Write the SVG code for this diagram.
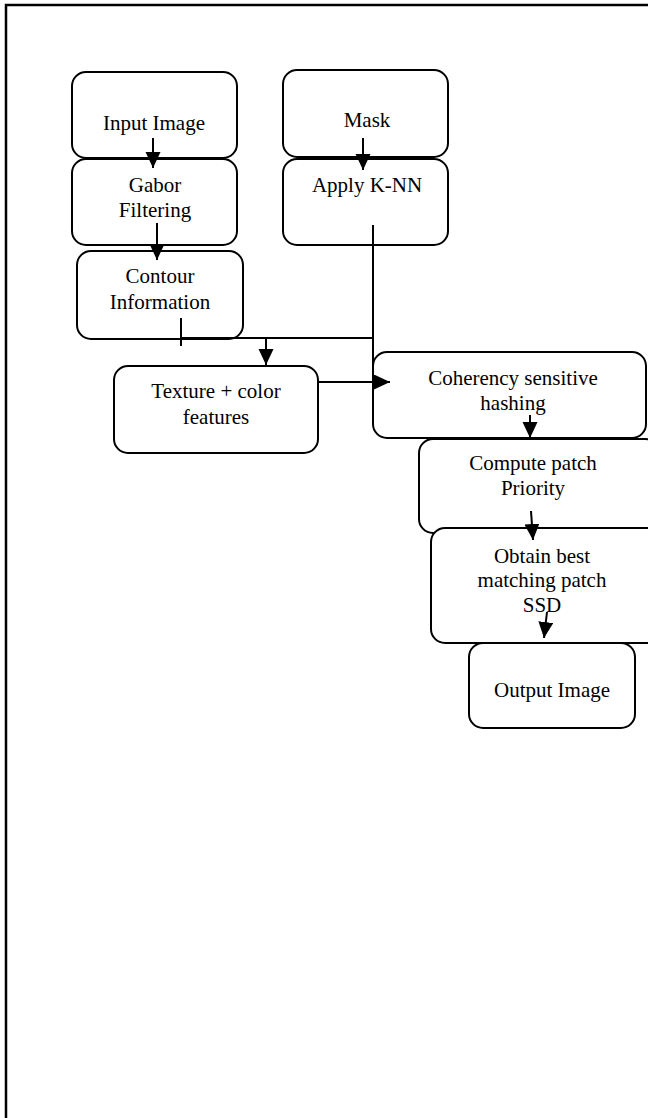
<svg xmlns="http://www.w3.org/2000/svg" width="648" height="1118" viewBox="0 0 648 1118">
<style>
.box{fill:#fff;stroke:#000;stroke-width:2}
.t{font-family:"Liberation Serif","Times New Roman",serif;font-size:21px;text-anchor:middle;fill:#000}
.c{fill:none;stroke:#000;stroke-width:2}
</style>
<defs>
<marker id="ah" markerUnits="userSpaceOnUse" markerWidth="18" markerHeight="18" refX="16" refY="7.5" orient="auto">
<path d="M0,0 L16,7.5 L0,15 z" fill="#000"/>
</marker>
</defs>
<path d="M6,1118 L6,5 L648,5" fill="none" stroke="#000" stroke-width="2.5"/>
<g id="n-input"><rect class="box" x="72" y="72" width="165" height="86" rx="14"/><text class="t" x="154" y="130">Input Image</text></g>
<g id="n-gabor"><rect class="box" x="72" y="159" width="165" height="86" rx="14"/><text class="t" x="155" y="192">Gabor</text><text class="t" x="155" y="217">Filtering</text></g>
<g id="n-contour"><rect class="box" x="77" y="251" width="166" height="88" rx="14"/><text class="t" x="160" y="283">Contour</text><text class="t" x="160" y="309">Information</text></g>
<g id="n-mask"><rect class="box" x="283" y="70" width="165" height="87" rx="14"/><text class="t" x="367" y="127">Mask</text></g>
<g id="n-knn"><rect class="box" x="283" y="159" width="165" height="86" rx="14"/><text class="t" x="367" y="192">Apply K-NN</text></g>
<g id="n-texture"><rect class="box" x="114" y="366" width="204" height="87" rx="14"/><text class="t" x="216" y="398">Texture + color</text><text class="t" x="216" y="424">features</text></g>
<g id="n-coherency"><rect class="box" x="373" y="352" width="273" height="86" rx="14"/><text class="t" x="513" y="385">Coherency sensitive</text><text class="t" x="513" y="410">hashing</text></g>
<g id="n-compute"><rect class="box" x="419" y="439" width="240" height="94" rx="14"/><text class="t" x="533" y="470">Compute patch</text><text class="t" x="533" y="495">Priority</text></g>
<g id="n-obtain"><rect class="box" x="431" y="528" width="230" height="115" rx="14"/><text class="t" x="542" y="563">Obtain best</text><text class="t" x="542" y="587">matching patch</text><text class="t" x="542" y="612">SSD</text></g>
<g id="n-output"><rect class="box" x="469" y="643" width="166" height="85" rx="14"/><text class="t" x="552" y="697">Output Image</text></g>
<g id="connectors">
<line class="c" x1="153" y1="138" x2="153" y2="168" marker-end="url(#ah)"/>
<line class="c" x1="157" y1="223" x2="157" y2="260" marker-end="url(#ah)"/>
<line class="c" x1="363" y1="138" x2="363" y2="170" marker-end="url(#ah)"/>
<line class="c" x1="181" y1="318" x2="181" y2="346"/>
<line class="c" x1="181" y1="338" x2="373" y2="338"/>
<line class="c" x1="266" y1="338" x2="266" y2="365" marker-end="url(#ah)"/>
<line class="c" x1="373" y1="225" x2="373" y2="382"/>
<line class="c" x1="318" y1="382" x2="390" y2="382" stroke-width="3" marker-end="url(#ah)"/>
<line class="c" x1="530" y1="415" x2="530" y2="438" marker-end="url(#ah)"/>
<line class="c" x1="531" y1="511" x2="533" y2="540" marker-end="url(#ah)"/>
<line class="c" x1="547" y1="612" x2="544" y2="638" marker-end="url(#ah)"/>
</g>
</svg>
